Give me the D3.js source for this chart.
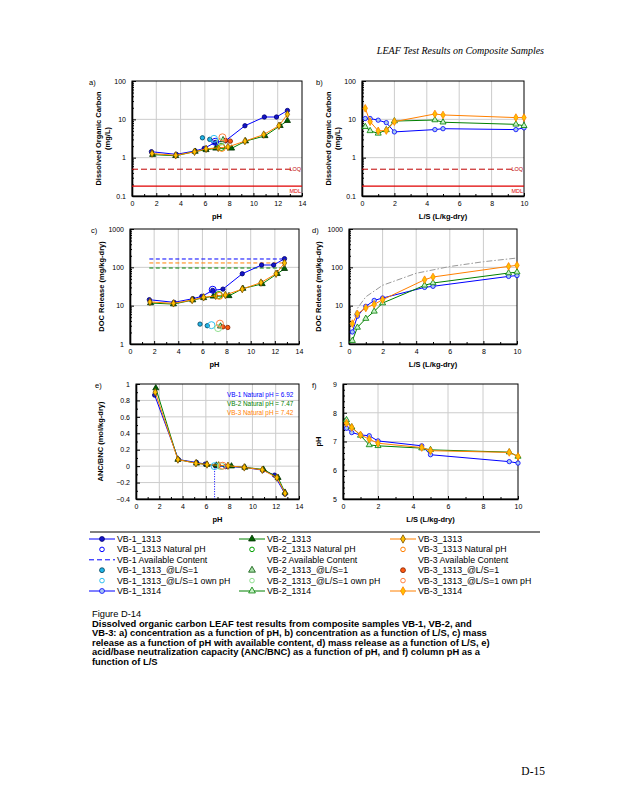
<!DOCTYPE html>
<html>
<head>
<meta charset="utf-8">
<script src="https://cdn.jsdelivr.net/npm/d3@7"></script>
<style>
  body { margin: 0; background: #fff; }
  svg { display: block; }
  text { font-family: Arial, "Liberation Sans", sans-serif; }
</style>
</head>
<body>
<div id="chart"></div>
<script>
// ---- data ----
const vb1pH = [1.6, 3.65, 5.2, 5.95, 6.85, 7.7, 9.3, 10.9, 11.9, 12.8];
const vb1Conc = [1.43, 1.22, 1.5, 1.75, 2.5, 2.75, 6.8, 11.5, 11.5, 17.0];
const vb1Rel = [14.3, 12.2, 15.2, 17.5, 25, 27, 68, 115, 115, 168];
const vb1Anc = [0.865, 0.08, 0.045, 0.025, 0.005, -0.005, -0.015, -0.05, -0.11, -0.34];

const vb2pH = [1.7, 3.6, 5.2, 6.1, 6.9, 8.2, 9.35, 10.95, 12.2, 12.8];
const vb2Conc = [1.2, 1.12, 1.45, 1.6, 1.75, 1.75, 2.7, 3.7, 6.8, 9.2];
const vb2Rel = [11.7, 11.0, 14.0, 16.0, 17.5, 18.0, 28, 37, 68, 92];
const vb2Anc = [0.95, 0.08, 0.035, 0.02, 0.01, 0.0, -0.015, -0.04, -0.14, -0.32];

const vb3pH = [1.65, 3.6, 5.15, 6.1, 7.1, 7.9, 9.3, 10.85, 12.1, 12.8];
const vb3Conc = [1.28, 1.15, 1.42, 1.7, 1.8, 1.9, 2.7, 4.0, 6.8, 13.5];
const vb3Rel = [12.5, 11.5, 14.0, 16.5, 18, 19, 27, 40, 68, 130];
const vb3Anc = [0.9, 0.08, 0.035, 0.02, 0.01, 0.005, -0.015, -0.045, -0.14, -0.33];

// natural pH points (pH, conc, release)
const natPH = [6.85, 7.35, 7.4];
const natConc = [2.6, 1.9, 1.8];
const natRel = [26, 19, 18];

// @L/S=1 tests
const ls1pH1 = [5.8, 6.4], ls1Val1 = [3.3, 3.0];
const ls1pH2 = [7.5], ls1Val2 = [2.9];
const ls1pH3 = [7.7, 8.1], ls1Val3 = [2.8, 2.7];
const ownPH = [6.75, 7.3, 7.45];
const ownVal = [3.1, 2.6, 3.4];
const ownAnc = [0, 0, 0.005];

// available content (mg/kg-dry)
const availContent = [165, 96, 130];
const availRange = [1.6, 12.75];

// LOQ / MDL (mg/L)
const loq = 0.5, mdl = 0.18;

// 1314 column test
const ls1314 = [0.2, 0.5, 1.0, 1.5, 2.0, 4.5, 5.0, 9.5, 10.0];
const col1Conc = [10.5, 10.5, 9.5, 8.2, 4.7, 5.4, 5.7, 5.4, 6.0];
const col2Conc = [6.4, 5.0, 4.3, 5.3, 9.0, 9.6, 8.4, 7.4, 6.8];
const col3Conc = [19.4, 8.7, 5.0, 5.1, 8.7, 13.8, 13.0, 11.1, 11.1];
const col1Cum = [2.06, 5.3, 9.6, 13.7, 15.8, 30, 32, 58, 61];
const col2Cum = [1.22, 2.7, 4.6, 7.1, 11.7, 34, 39, 71, 75];
const col3Cum = [3.4, 6.1, 8.7, 10.8, 14.3, 47.5, 56, 106, 113];
const col1pH = [7.46, 7.31, 7.23, 7.2, 7.02, 6.85, 6.54, 6.3, 6.25];
const col2pH = [7.75, 7.5, 7.21, 6.88, 6.85, 6.77, 6.71, 6.63, 6.48];
const col3pH = [7.64, 7.49, 7.23, 7.08, 6.94, 6.79, 6.68, 6.62, 6.48];
const refLS = [0.3, 0.5, 1, 2, 4, 6, 8, 10];
const refCum = [5.5, 8.5, 17, 34, 70, 105, 140, 175];

const natLabels = ["VB-1 Natural pH = 6.92", "VB-2 Natural pH = 7.47", "VB-3 Natural pH = 7.42"];

const legendRows = [
  ["VB-1_1313", "VB-2_1313", "VB-3_1313"],
  ["VB-1_1313 Natural pH", "VB-2_1313 Natural pH", "VB-3_1313 Natural pH"],
  ["VB-1 Available Content", "VB-2 Available Content", "VB-3 Available Content"],
  ["VB-1_1313_@L/S=1", "VB-2_1313_@L/S=1", "VB-3_1313_@L/S=1"],
  ["VB-1_1313_@L/S=1 own pH", "VB-2_1313_@L/S=1 own pH", "VB-3_1313_@L/S=1 own pH"],
  ["VB-1_1314", "VB-2_1314", "VB-3_1314"]
];

const captionLines = [
  "Dissolved organic carbon LEAF test results from composite samples VB-1, VB-2, and",
  "VB-3: a) concentration as a function of pH, b) concentration as a function of L/S, c) mass",
  "release as a function of pH with available content, d) mass release as a function of L/S, e)",
  "acid/base neutralization capacity (ANC/BNC) as a function of pH, and f) column pH as a",
  "function of L/S"
];

// ---- styles ----
const blue = "#0000ff", green = "#008000", orange = "#ff8000";
const st = {
  s1313: [
    { line: blue, sym: d3.symbolCircle, size: 15, fill: "#1414c8", stroke: "#000070" },
    { line: green, sym: d3.symbolTriangle, size: 16, fill: "#006400", stroke: "#003000" },
    { line: orange, sym: d3.symbolDiamond, size: 16, fill: "#ffc000", stroke: "#7a5000" }
  ],
  nat: [blue, "#00a000", orange],
  ls1: [
    { sym: d3.symbolCircle, size: 15, fill: "#20b4e6", stroke: "#00405a" },
    { sym: d3.symbolTriangle, size: 16, fill: "#a8e0a8", stroke: "#005000" },
    { sym: d3.symbolCircle, size: 15, fill: "#ff5a10", stroke: "#802000" }
  ],
  own: ["#30c0f0", "#90e090", "#ff8040"],
  s1314: [
    { line: blue, sym: d3.symbolCircle, size: 15, fill: "#a8c8f0", stroke: blue },
    { line: green, sym: d3.symbolTriangle, size: 16, fill: "#c8f0c8", stroke: green },
    { line: orange, sym: d3.symbolDiamond, size: 17, fill: "#ffc000", stroke: orange }
  ]
};

const svg = d3.select("#chart").append("svg")
  .attr("width", 618).attr("height", 800);

// header / footer
svg.append("text").attr("x", 544).attr("y", 54).attr("text-anchor", "end")
  .style("font-family", "'Liberation Serif', 'DejaVu Serif', serif")
  .style("font-style", "italic").style("font-size", "10px")
  .text("LEAF Test Results on Composite Samples");
svg.append("text").attr("x", 545).attr("y", 775).attr("text-anchor", "end")
  .style("font-family", "'Liberation Serif', 'DejaVu Serif', serif")
  .style("font-size", "11.5px").text("D-15");

function makePanel(c) {
  const g = svg.append("g");
  const x = d3.scaleLinear().domain(c.xDomain).range([c.left, c.right]);
  const y = (c.log ? d3.scaleLog() : d3.scaleLinear()).domain(c.yDomain).range([c.bottom, c.top]);

  // grid
  g.selectAll(".gx").data(c.xTicks.slice(1, -1)).join("line")
    .attr("x1", d => x(d)).attr("x2", d => x(d))
    .attr("y1", c.top).attr("y2", c.bottom)
    .attr("stroke", "#cccccc").attr("stroke-width", 1);
  g.selectAll(".gy").data(c.yTicks.slice(1, -1)).join("line")
    .attr("x1", c.left).attr("x2", c.right)
    .attr("y1", d => y(d)).attr("y2", d => y(d))
    .attr("stroke", "#cccccc").attr("stroke-width", 1);

  // frame
  g.append("rect").attr("x", c.left).attr("y", c.top)
    .attr("width", c.right - c.left).attr("height", c.bottom - c.top)
    .attr("fill", "none").attr("stroke", "#000").attr("stroke-width", 1);

  // minor ticks
  g.append("g").attr("transform", `translate(0,${c.bottom})`)
    .call(d3.axisBottom(x).tickValues(c.xMinor).tickSize(-2).tickFormat(""))
    .call(a => a.select(".domain").remove());
  g.append("g").attr("transform", `translate(${c.left},0)`)
    .call(d3.axisLeft(y).tickValues(c.yMinor).tickSize(-2).tickFormat(""))
    .call(a => a.select(".domain").remove());

  // major axes
  const ax = g.append("g").attr("transform", `translate(0,${c.bottom})`)
    .call(d3.axisBottom(x).tickValues(c.xTicks).tickSizeInner(-3).tickSizeOuter(0).tickPadding(5).tickFormat(c.xFmt || d3.format("")));
  const ay = g.append("g").attr("transform", `translate(${c.left},0)`)
    .call(d3.axisLeft(y).tickValues(c.yTicks).tickSizeInner(-4).tickSizeOuter(0).tickPadding(6).tickFormat(c.yFmt || d3.format("")));
  [ax, ay].forEach(a => {
    a.select(".domain").attr("stroke-width", 1.6);
    a.selectAll("text").style("font-size", "7px").style("font-family", "Arial, 'Liberation Sans', sans-serif");
  });

  // axis titles
  g.append("text").attr("x", (c.left + c.right) / 2).attr("y", c.bottom + 23)
    .attr("text-anchor", "middle").style("font-size", "7.5px").style("font-weight", "bold")
    .text(c.xLabel);
  c.yLabel.forEach((t, i) => {
    g.append("text")
      .attr("transform", `translate(${c.yLabelX[i]},${(c.top + c.bottom) / 2}) rotate(-90)`)
      .attr("text-anchor", "middle").style("font-size", "7.5px").style("font-weight", "bold")
      .text(t);
  });
  g.append("text").attr("x", c.tagX).attr("y", c.top + 4)
    .style("font-size", "7.5px").text(c.tag);

  return { g, x, y };
}

function drawSeries(p, xs, ys, s, opts = {}) {
  const pts = xs.map((d, i) => [d, ys[i]]);
  if (s.line) {
    p.g.append("path").datum(pts)
      .attr("fill", "none").attr("stroke", s.line).attr("stroke-width", 1)
      .attr("stroke-dasharray", opts.dash || null)
      .attr("d", d3.line().x(d => p.x(d[0])).y(d => p.y(d[1])));
  }
  if (s.sym) {
    p.g.selectAll(null).data(pts).join("path")
      .attr("transform", d => `translate(${p.x(d[0])},${p.y(d[1])})`)
      .attr("d", d3.symbol().type(s.sym).size(s.size))
      .attr("fill", s.fill).attr("stroke", s.stroke).attr("stroke-width", 0.8);
  }
}

function openCircles(p, xs, ys, color, r) {
  p.g.selectAll(null).data(xs.map((d, i) => [d, ys[i]])).join("circle")
    .attr("cx", d => p.x(d[0])).attr("cy", d => p.y(d[1])).attr("r", r)
    .attr("fill", "none").attr("stroke", color).attr("stroke-width", 1);
}

const logMinor = (lo, hi) => {
  const out = [];
  for (let e = lo; e < hi; e++) for (let k = 2; k <= 9; k++) out.push(k * Math.pow(10, e));
  return out;
};
const fmtLog = d => d >= 1 ? d3.format("")(d) : d3.format(".1f")(d);

const pHTicks = d3.range(0, 15, 2), pHMinor = d3.range(1, 14, 2);
const lsTicks = d3.range(0, 11, 2), lsMinor = d3.range(1, 10, 2);

// ---- a) concentration vs pH ----
const pa = makePanel({
  left: 132, right: 302, top: 81, bottom: 196, log: true,
  xDomain: [0, 14], yDomain: [0.1, 100], xTicks: pHTicks, xMinor: pHMinor,
  yTicks: [0.1, 1, 10, 100], yMinor: logMinor(-1, 2), yFmt: fmtLog,
  xLabel: "pH", yLabel: ["Dissolved Organic Carbon", "(mg/L)"], yLabelX: [101, 110],
  tag: "a)", tagX: 89
});
function limitLines(p) {
  const xr = p.x.range();
  p.g.append("line").attr("x1", xr[0]).attr("x2", xr[1] - 10).attr("y1", p.y(loq)).attr("y2", p.y(loq))
    .attr("stroke", "#c00000").attr("stroke-width", 1).attr("stroke-dasharray", "6,3");
  p.g.append("line").attr("x1", xr[0]).attr("x2", xr[1]).attr("y1", p.y(mdl)).attr("y2", p.y(mdl))
    .attr("stroke", "#e00000").attr("stroke-width", 1.2);
  p.g.append("text").attr("x", xr[1] - 1).attr("y", p.y(loq) + 2).attr("text-anchor", "end")
    .style("font-size", "5.5px").attr("fill", "#c00000").text("LOQ");
  p.g.append("text").attr("x", xr[1] - 1).attr("y", p.y(mdl) + 7).attr("text-anchor", "end")
    .style("font-size", "5.5px").attr("fill", "#e00000").text("MDL");
}
limitLines(pa);
drawSeries(pa, vb1pH, vb1Conc, st.s1313[0]);
drawSeries(pa, vb2pH, vb2Conc, st.s1313[1]);
drawSeries(pa, vb3pH, vb3Conc, st.s1313[2]);
natPH.forEach((d, i) => openCircles(pa, [d], [natConc[i]], st.nat[i], 3.5));
drawSeries(pa, ls1pH1, ls1Val1, st.ls1[0]);
drawSeries(pa, ls1pH2, ls1Val2, st.ls1[1]);
drawSeries(pa, ls1pH3, ls1Val3, st.ls1[2]);
ownPH.forEach((d, i) => openCircles(pa, [d], [ownVal[i]], st.own[i], 3.5));

// ---- b) concentration vs L/S ----
const pb = makePanel({
  left: 362, right: 524, top: 81, bottom: 196, log: true,
  xDomain: [0, 10], yDomain: [0.1, 100], xTicks: lsTicks, xMinor: lsMinor,
  yTicks: [0.1, 1, 10, 100], yMinor: logMinor(-1, 2), yFmt: fmtLog,
  xLabel: "L/S (L/kg-dry)", yLabel: ["Dissolved Organic Carbon", "(mg/L)"], yLabelX: [331, 340],
  tag: "b)", tagX: 316
});
limitLines(pb);
drawSeries(pb, ls1314, col1Conc, st.s1314[0]);
drawSeries(pb, ls1314, col2Conc, st.s1314[1]);
drawSeries(pb, ls1314, col3Conc, st.s1314[2]);

// ---- c) release vs pH ----
const pc = makePanel({
  left: 130, right: 299, top: 229, bottom: 344, log: true,
  xDomain: [0, 14], yDomain: [1, 1000], xTicks: pHTicks, xMinor: pHMinor,
  yTicks: [1, 10, 100, 1000], yMinor: logMinor(0, 3),
  xLabel: "pH", yLabel: ["DOC Release (mg/kg-dry)"], yLabelX: [104],
  tag: "c)", tagX: 91
});
[blue, green, orange].forEach((col, i) => {
  drawSeries(pc, availRange, [availContent[i], availContent[i]], { line: col }, { dash: "4,2.5" });
});
drawSeries(pc, vb1pH, vb1Rel, st.s1313[0]);
drawSeries(pc, vb2pH, vb2Rel, st.s1313[1]);
drawSeries(pc, vb3pH, vb3Rel, st.s1313[2]);
natPH.forEach((d, i) => openCircles(pc, [d], [natRel[i]], st.nat[i], 3.5));
drawSeries(pc, ls1pH1, ls1Val1, st.ls1[0]);
drawSeries(pc, ls1pH2, ls1Val2, st.ls1[1]);
drawSeries(pc, ls1pH3, ls1Val3, st.ls1[2]);
ownPH.forEach((d, i) => openCircles(pc, [d], [ownVal[i]], st.own[i], 3.5));

// ---- d) release vs L/S ----
const pd = makePanel({
  left: 349, right: 517, top: 229, bottom: 344, log: true,
  xDomain: [0, 10], yDomain: [1, 1000], xTicks: lsTicks, xMinor: lsMinor,
  yTicks: [1, 10, 100, 1000], yMinor: logMinor(0, 3),
  xLabel: "L/S (L/kg-dry)", yLabel: ["DOC Release (mg/kg-dry)"], yLabelX: [321],
  tag: "d)", tagX: 312
});
drawSeries(pd, refLS, refCum, { line: "#999999" }, { dash: "6,2,1.5,2" });
drawSeries(pd, ls1314, col1Cum, st.s1314[0]);
drawSeries(pd, ls1314, col2Cum, st.s1314[1]);
drawSeries(pd, ls1314, col3Cum, st.s1314[2]);

// ---- e) ANC/BNC vs pH ----
const pe = makePanel({
  left: 136, right: 299, top: 384, bottom: 499, log: false,
  xDomain: [0, 14], yDomain: [-0.4, 1], xTicks: pHTicks, xMinor: pHMinor,
  yTicks: d3.range(-0.4, 1.01, 0.2).map(d => +d.toFixed(1)), yMinor: d3.range(-0.3, 1, 0.2).map(d => +d.toFixed(1)),
  yFmt: d => d3.format("")(d),
  xLabel: "pH", yLabel: ["ANC/BNC (mol/kg-dry)"], yLabelX: [103],
  tag: "e)", tagX: 95
});
pe.g.append("line").attr("x1", pe.x(ownPH[0])).attr("x2", pe.x(ownPH[0]))
  .attr("y1", pe.y(0)).attr("y2", pe.y(-0.4))
  .attr("stroke", blue).attr("stroke-width", 1).attr("stroke-dasharray", "1,1.5");
drawSeries(pe, vb1pH, vb1Anc, st.s1313[0]);
drawSeries(pe, vb2pH, vb2Anc, st.s1313[1]);
drawSeries(pe, vb3pH, vb3Anc, st.s1313[2]);
ownPH.forEach((d, i) => openCircles(pe, [d], [ownAnc[i]], st.own[i], 3.5));
natLabels.forEach((t, i) => {
  pe.g.append("text").attr("x", 227).attr("y", 397 + i * 8.8)
    .style("font-size", "6.4px").attr("fill", [blue, green, orange][i]).text(t);
});

// ---- f) column pH vs L/S ----
const pf = makePanel({
  left: 343, right: 518, top: 384, bottom: 499, log: false,
  xDomain: [0, 10], yDomain: [5, 9], xTicks: lsTicks, xMinor: lsMinor,
  yTicks: [5, 6, 7, 8, 9], yMinor: d3.range(5.2, 9, 0.2).filter(d => Math.abs(d - Math.round(d)) > 0.05),
  xLabel: "L/S (L/kg-dry)", yLabel: ["pH"], yLabelX: [321],
  tag: "f)", tagX: 312
});
drawSeries(pf, ls1314, col1pH, st.s1314[0]);
drawSeries(pf, ls1314, col2pH, st.s1314[1]);
drawSeries(pf, ls1314, col3pH, st.s1314[2]);

// ---- legend ----
const lg = svg.append("g");
lg.append("line").attr("x1", 90).attr("x2", 540).attr("y1", 532).attr("y2", 532)
  .attr("stroke", "#000").attr("stroke-width", 1.2);
const rowY = d3.scalePoint().domain(d3.range(6)).range([539, 591]);
const colX = [102, 252, 403];
function legendSym(i, r, cx, cy) {
  const gs = lg.append("g").attr("transform", `translate(${cx},${cy})`);
  let line = null, sym = null, open = null, dash = null;
  if (r === 0) { line = st.s1313[i].line; sym = st.s1313[i]; }
  if (r === 1) open = st.nat[i];
  if (r === 2 && i === 0) { line = blue; dash = "5,3"; }
  if (r === 3) sym = st.ls1[i];
  if (r === 4) open = st.own[i];
  if (r === 5) { line = st.s1314[i].line; sym = st.s1314[i]; }
  if (line) gs.append("line").attr("x1", -13).attr("x2", 13).attr("stroke", line)
    .attr("stroke-width", 1).attr("stroke-dasharray", dash);
  if (sym) gs.append("path").attr("d", d3.symbol().type(sym.sym).size(sym.size + 4))
    .attr("fill", sym.fill).attr("stroke", sym.stroke).attr("stroke-width", 0.8);
  if (open) gs.append("circle").attr("r", 2.3).attr("fill", "none").attr("stroke", open).attr("stroke-width", 1);
}
legendRows.forEach((row, r) => {
  row.forEach((t, i) => {
    legendSym(i, r, colX[i], rowY(r));
    lg.append("text").attr("x", colX[i] + 15).attr("y", rowY(r) + 3)
      .style("font-size", "8.8px").text(t);
  });
});

// ---- caption ----
svg.append("text").attr("x", 92).attr("y", 617).style("font-size", "9.3px").text("Figure D-14");
captionLines.forEach((t, i) => {
  svg.append("text").attr("x", 92).attr("y", 626.5 + i * 9.6)
    .style("font-size", "9.4px").style("font-weight", "bold").text(t);
});
</script>
</body>
</html>
